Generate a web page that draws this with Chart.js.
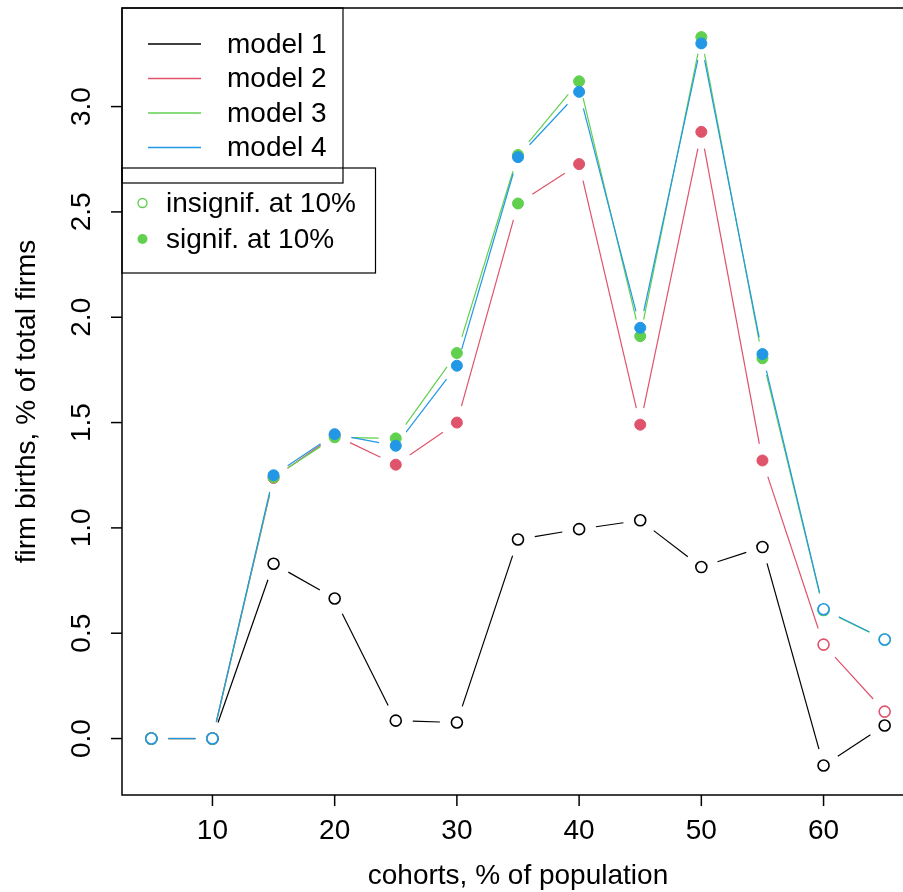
<!DOCTYPE html>
<html>
<head>
<meta charset="utf-8">
<title>Firm births by cohort</title>
<script src="https://cdn.jsdelivr.net/npm/chart.js@4.4.1/dist/chart.umd.min.js"></script>
<style>
	html, body { margin: 0; padding: 0; background: #fff; overflow: hidden; }
	#wrap { width: 930px; height: 892px; }
</style>
</head>
<body>
<div id="wrap"><canvas id="chart" width="930" height="892"></canvas></div>
<script>
// Data
const cohorts = [5, 10, 15, 20, 25, 30, 35, 40, 45, 50, 55, 60, 65];
const model1 = [0, 0, 0.83, 0.665, 0.085, 0.076, 0.945, 0.994, 1.036, 0.814, 0.909, -0.128, 0.062];
const model2 = [0, 0, 1.237, 1.44, 1.30, 1.50, 2.54, 2.727, 1.49, 2.88, 1.32, 0.446, 0.128];
const model3 = [0, 0, 1.24, 1.43, 1.425, 1.83, 2.77, 3.12, 1.91, 3.33, 1.805, 0.61, 0.47];
const model4 = [0, 0, 1.25, 1.445, 1.39, 1.77, 2.76, 3.07, 1.95, 3.30, 1.825, 0.614, 0.47];

// 1 = significant at 10% (filled marker)
const signif1 = [0, 0, 0, 0, 0, 0, 0, 0, 0, 0, 0, 0, 0];
const signif2 = [0, 0, 1, 1, 1, 1, 1, 1, 1, 1, 1, 0, 0];
const signif3 = [0, 0, 1, 1, 1, 1, 1, 1, 1, 1, 1, 0, 0];
const signif4 = [0, 0, 1, 1, 1, 1, 1, 1, 1, 1, 1, 0, 0];

const seriesNames = ['model 1', 'model 2', 'model 3', 'model 4'];
const keyLabels = ['insignif. at 10%', 'signif. at 10%'];
const xTicks = [10, 20, 30, 40, 50, 60];
const yTicks = [0, 0.5, 1, 1.5, 2, 2.5, 3];
const yTickLabels = ['0.0', '0.5', '1.0', '1.5', '2.0', '2.5', '3.0'];

const colors = ['#000000', '#DF536B', '#61D04F', '#2297E6'];
const FONT = '28px "Liberation Sans", Arial, sans-serif';
const GAP = 17; // R type="b": lines stop short of the points

const models = [model1, model2, model3, model4];
const signif = [signif1, signif2, signif3, signif4];
// the original plot drew the model 2 marker at cohort 35 in green
const markerOverride = { 1: { 6: colors[2] } };

function line(ctx, x1, y1, x2, y2) {
	ctx.beginPath();
	ctx.moveTo(x1, y1);
	ctx.lineTo(x2, y2);
	ctx.stroke();
}

// dash pattern per segment: gap, line, gap (unique per segment so they don't merge)
function gappedDash(c) {
	const len = Math.hypot(c.p1.x - c.p0.x, c.p1.y - c.p0.y);
	return [0, GAP, Math.max(0, len - 2 * GAP), 10000 + c.p0DataIndex];
}

// R-style box, axes, titles and the two legends
const rFrame = {
	id: 'rFrame',
	afterDraw(chart) {
		const ctx = chart.ctx;
		const a = chart.chartArea;
		const xs = chart.scales.x;
		const ys = chart.scales.y;
		ctx.save();
		ctx.strokeStyle = '#000';
		ctx.fillStyle = '#000';
		ctx.lineWidth = 1.5;
		ctx.strokeRect(a.left, a.top, a.right - a.left, a.bottom - a.top);

		ctx.font = FONT;
		ctx.textAlign = 'center';
		ctx.textBaseline = 'alphabetic';
		xTicks.forEach((v) => {
			const px = xs.getPixelForValue(v);
			line(ctx, px, a.bottom, px, a.bottom + 11);
			ctx.fillText(String(v), px, 839);
		});

		yTicks.forEach((v, i) => {
			const py = ys.getPixelForValue(v);
			line(ctx, a.left - 11, py, a.left, py);
			ctx.save();
			ctx.translate(90, py);
			ctx.rotate(-Math.PI / 2);
			ctx.fillText(yTickLabels[i], 0, 0);
			ctx.restore();
		});

		// axis titles
		ctx.fillText('cohorts, % of population', (a.left + a.right) / 2, 884);
		ctx.save();
		ctx.translate(35, (a.top + a.bottom) / 2);
		ctx.rotate(-Math.PI / 2);
		ctx.fillText('firm births, % of total firms', 0, 0);
		ctx.restore();

		// legend: models
		ctx.lineWidth = 1.2;
		ctx.strokeRect(122, 8, 221, 175);
		ctx.textAlign = 'left';
		ctx.textBaseline = 'middle';
		seriesNames.forEach((name, i) => {
			const ly = 44 + i * 34.5;
			ctx.strokeStyle = colors[i];
			ctx.lineWidth = 1.5;
			line(ctx, 148, ly, 201, ly);
			ctx.fillText(name, 227, ly + 1);
		});

		// legend: significance
		ctx.strokeStyle = '#000';
		ctx.lineWidth = 1.2;
		ctx.strokeRect(122, 168, 253.5, 105);
		keyLabels.forEach((name, i) => {
			const ly = 203 + i * 36;
			ctx.beginPath();
			ctx.arc(142.5, ly, i === 0 ? 4.5 : 5, 0, Math.PI * 2);
			if (i === 0) {
				ctx.strokeStyle = colors[2];
				ctx.lineWidth = 1.4;
				ctx.stroke();
			} else {
				ctx.fillStyle = colors[2];
				ctx.fill();
			}
			ctx.fillStyle = '#000';
			ctx.fillText(name, 166, ly + 1);
		});
		ctx.restore();
	},
};

const datasets = models.map((vals, m) => {
	const over = markerOverride[m] || {};
	return {
		label: seriesNames[m],
		data: cohorts.map((c, i) => ({ x: c, y: vals[i] })),
		borderColor: colors[m],
		borderWidth: 1.2,
		segment: { borderDash: gappedDash },
		pointRadius: 5.5,
		pointBorderWidth: signif[m].map((s) => (s ? 1 : 1.6)),
		pointBackgroundColor: signif[m].map((s, i) => (s ? over[i] || colors[m] : '#ffffff')),
		pointBorderColor: signif[m].map((s, i) => (s ? over[i] || colors[m] : colors[m])),
		tension: 0,
		order: 3 - m,
	};
});

const ctx = document.getElementById('chart').getContext('2d');
const chart = new Chart(ctx, {
	type: 'line',
	data: { datasets: datasets },
	options: {
		responsive: false,
		animation: false,
		layout: { padding: { left: 122, top: 8, right: 16, bottom: 97 } },
		scales: {
			x: { type: 'linear', min: 2.6, max: 67.4, display: false },
			y: { type: 'linear', min: -0.268, max: 3.468, display: false },
		},
		plugins: {
			legend: { display: false },
			tooltip: { enabled: false },
		},
	},
	plugins: [rFrame],
});
</script>
</body>
</html>
